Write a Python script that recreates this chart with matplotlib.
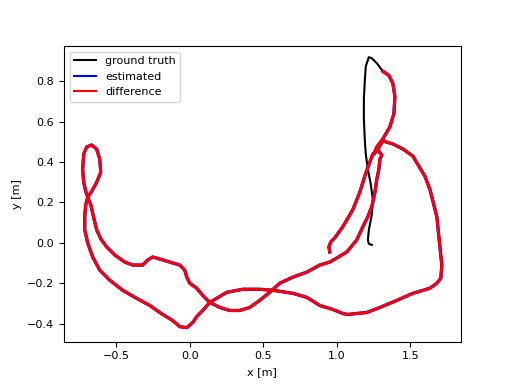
import numpy as np
import matplotlib
matplotlib.use("Agg")
import matplotlib.pyplot as plt
from matplotlib.lines import Line2D

# Tratto iniziale del ground truth (non associato alla stima)
gt_start_x = [1.238, 1.218, 1.211, 1.218, 1.238, 1.245, 1.231, 1.211, 1.197, 1.190,
              1.184, 1.184, 1.190, 1.197, 1.218, 1.238, 1.272]
gt_start_y = [-0.010, -0.005, 0.015, 0.065, 0.14, 0.215, 0.29, 0.365, 0.44, 0.515,
              0.615, 0.715, 0.80, 0.875, 0.92, 0.915, 0.89]

# Traiettoria stimata
est_x = [1.313, 1.354, 1.381, 1.395, 1.388, 1.361, 1.313, 1.272, 1.252,
         1.279, 1.313, 1.381, 1.449, 1.517, 1.599, 1.633, 1.680, 1.701, 1.714,
         1.707, 1.680, 1.633, 1.517, 1.408, 1.293, 1.204, 1.136, 1.075, 1.041,
         0.973, 0.884, 0.796, 0.701, 0.565, 0.476, 0.361, 0.252, 0.136, 0.088,
         0.048, 0.020, -0.020, -0.068, -0.116, -0.204, -0.272, -0.361, -0.456,
         -0.544, -0.612, -0.660, -0.694, -0.714, -0.714, -0.707, -0.694, -0.667,
         -0.633, -0.605, -0.612, -0.633, -0.667, -0.701, -0.721, -0.728, -0.721,
         -0.707, -0.694, -0.673, -0.653, -0.633, -0.605, -0.565, -0.510, -0.442,
         -0.388, -0.320, -0.286, -0.252, -0.204, -0.136, -0.068, -0.034, -0.020,
         0.0, 0.048, 0.088, 0.136, 0.204, 0.272, 0.340, 0.408, 0.476, 0.544,
         0.612, 0.701, 0.796, 0.884, 0.952, 1.0, 1.068, 1.136, 1.177, 1.211,
         1.238, 1.259, 1.272, 1.286, 1.293, 1.306, 1.279, 1.245, 1.224, 1.190,
         1.156, 1.109, 1.041, 0.986, 0.959, 0.946, 0.952]
est_y = [0.85, 0.83, 0.79, 0.725, 0.64, 0.575, 0.515, 0.475, 0.44,
         0.465, 0.505, 0.49, 0.465, 0.43, 0.33, 0.265, 0.13, -0.02, -0.11,
         -0.175, -0.20, -0.225, -0.25, -0.285, -0.32, -0.345, -0.35, -0.355, -0.35,
         -0.33, -0.31, -0.27, -0.25, -0.235, -0.23, -0.23, -0.245, -0.295, -0.335,
         -0.365, -0.395, -0.42, -0.415, -0.385, -0.345, -0.31, -0.275, -0.235,
         -0.185, -0.135, -0.07, 0.0, 0.065, 0.13, 0.19, 0.225, 0.255,
         0.30, 0.35, 0.415, 0.465, 0.485, 0.475, 0.44, 0.365, 0.30,
         0.255, 0.225, 0.19, 0.125, 0.065, 0.02, -0.02, -0.06, -0.095,
         -0.11, -0.11, -0.085, -0.07, -0.08, -0.095, -0.11, -0.135, -0.17,
         -0.20, -0.225, -0.26, -0.295, -0.32, -0.335, -0.335, -0.32, -0.285, -0.245,
         -0.20, -0.17, -0.145, -0.11, -0.095, -0.075, -0.045, 0.015, 0.08, 0.13,
         0.18, 0.25, 0.315, 0.365, 0.415, 0.435, 0.46, 0.44, 0.40, 0.33,
         0.25, 0.165, 0.08, 0.025, 0.005, -0.02, -0.045]

# Ground truth completo: tratto iniziale + tratto associato
gt_x = np.array(gt_start_x + est_x)
gt_y = np.array(gt_start_y + est_y)
est_x = np.array(est_x)
est_y = np.array(est_y)

fig, ax = plt.subplots(figsize=(5.12, 3.84), dpi=100)
ax.plot(gt_x, gt_y, '-', color='black', lw=1.5, solid_joinstyle='round')
ax.plot(est_x, est_y, '-', color='blue', lw=2.4, solid_joinstyle='round')
ax.plot(est_x, est_y, '-', color='red', lw=2.1, solid_joinstyle='round')

handles = [Line2D([], [], color='black', lw=1.5),
           Line2D([], [], color='blue', lw=1.5),
           Line2D([], [], color='red', lw=1.5)]
ax.legend(handles, ["ground truth", "estimated", "difference"], loc='upper left', fontsize=8)
ax.set_xlim(-0.855, 1.843)
ax.set_ylim(-0.49, 0.975)
ax.set_xticks([-0.5, 0.0, 0.5, 1.0, 1.5])
ax.set_yticks([-0.4, -0.2, 0.0, 0.2, 0.4, 0.6, 0.8])
ax.tick_params(labelsize=8)
ax.set_xlabel("x [m]", fontsize=8)
ax.set_ylabel("y [m]", fontsize=8)
fig.savefig("out.png", dpi=100)
